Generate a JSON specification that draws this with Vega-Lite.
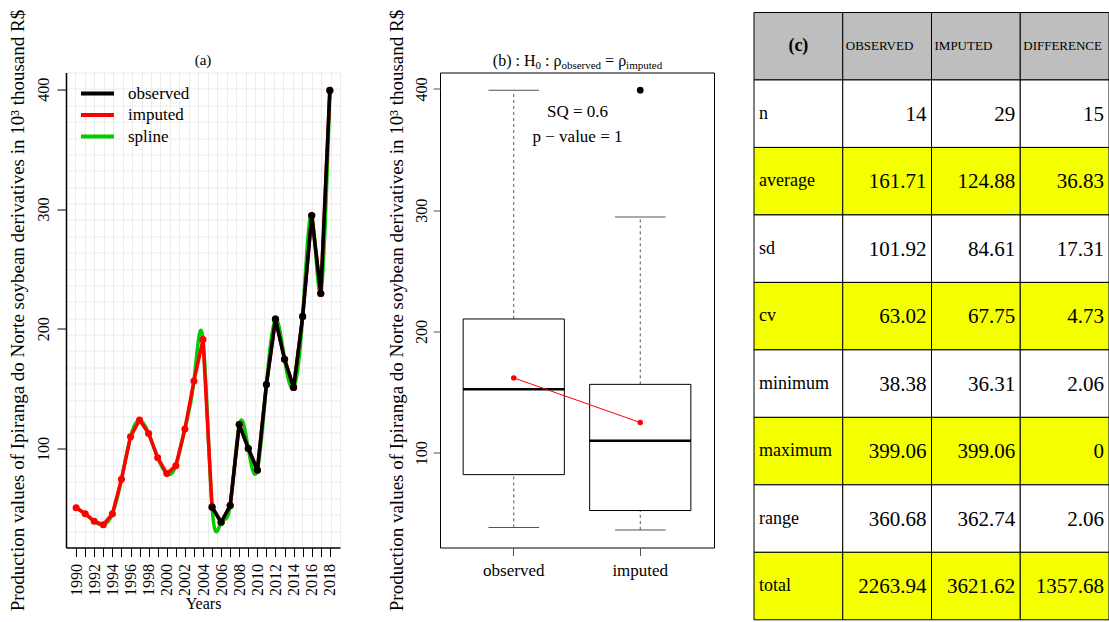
{
  "$schema": "https://vega.github.io/schema/vega-lite/v6.json",
  "background": "white",
  "autosize": {"type": "pad"},
  "padding": {"left": 7, "top": 0, "right": 0, "bottom": 0},
  "bounds": "flush",
  "center": true,
  "spacing": 40,
  "config": {
    "font": "Liberation Serif",
    "view": {"stroke": null},
    "axis": {"labelColor": "black", "titleColor": "black", "titleFontWeight": "normal", "labelFont": "Liberation Serif", "titleFont": "Liberation Serif"},
    "legend": {"labelFont": "Liberation Serif"}
  },
  "datasets": {
    "series": [
      {"year": 1990, "value": 50.5, "kind": "imputed"},
      {"year": 1991, "value": 45.5, "kind": "imputed"},
      {"year": 1992, "value": 39.2, "kind": "imputed"},
      {"year": 1993, "value": 36.31, "kind": "imputed"},
      {"year": 1994, "value": 45.4, "kind": "imputed"},
      {"year": 1995, "value": 74.2, "kind": "imputed"},
      {"year": 1996, "value": 109.8, "kind": "imputed"},
      {"year": 1997, "value": 123.8, "kind": "imputed"},
      {"year": 1998, "value": 112.5, "kind": "imputed"},
      {"year": 1999, "value": 92.3, "kind": "imputed"},
      {"year": 2000, "value": 79.0, "kind": "imputed"},
      {"year": 2001, "value": 85.6, "kind": "imputed"},
      {"year": 2002, "value": 116.2, "kind": "imputed"},
      {"year": 2003, "value": 156.37, "kind": "imputed"},
      {"year": 2004, "value": 191.0, "kind": "imputed"},
      {"year": 2005, "value": 51.0, "kind": "imputed"},
      {"year": 2006, "value": 38.38, "kind": "imputed"},
      {"year": 2007, "value": 52.3, "kind": "imputed"},
      {"year": 2008, "value": 120.0, "kind": "imputed"},
      {"year": 2009, "value": 100.0, "kind": "imputed"},
      {"year": 2010, "value": 81.9, "kind": "imputed"},
      {"year": 2011, "value": 153.5, "kind": "imputed"},
      {"year": 2012, "value": 208.0, "kind": "imputed"},
      {"year": 2013, "value": 174.5, "kind": "imputed"},
      {"year": 2014, "value": 151.0, "kind": "imputed"},
      {"year": 2015, "value": 210.3, "kind": "imputed"},
      {"year": 2016, "value": 294.5, "kind": "imputed"},
      {"year": 2017, "value": 229.5, "kind": "imputed"},
      {"year": 2018, "value": 399.06, "kind": "imputed"},
      {"year": 2005, "value": 51.0, "kind": "observed"},
      {"year": 2006, "value": 38.38, "kind": "observed"},
      {"year": 2007, "value": 52.3, "kind": "observed"},
      {"year": 2008, "value": 120.0, "kind": "observed"},
      {"year": 2009, "value": 100.0, "kind": "observed"},
      {"year": 2010, "value": 81.9, "kind": "observed"},
      {"year": 2011, "value": 153.5, "kind": "observed"},
      {"year": 2012, "value": 208.0, "kind": "observed"},
      {"year": 2013, "value": 174.5, "kind": "observed"},
      {"year": 2014, "value": 151.0, "kind": "observed"},
      {"year": 2015, "value": 210.3, "kind": "observed"},
      {"year": 2016, "value": 294.5, "kind": "observed"},
      {"year": 2017, "value": 229.5, "kind": "observed"},
      {"year": 2018, "value": 399.06, "kind": "observed"}
    ],
    "box": [
      {"group": "observed", "lo": 38.38, "q1": 81.9, "med": 152.25, "q3": 210.3, "hi": 399.06, "mean": 161.71},
      {"group": "imputed", "lo": 36.31, "q1": 52.3, "med": 109.8, "q3": 156.37, "hi": 294.5, "mean": 124.88}
    ],
    "outl": [
      {"group": "imputed", "value": 399.06}
    ],
    "tbl": [
      {"row": "head", "col": "stat", "t": "(c)"},
      {"row": "head", "col": "OBSERVED", "t": "OBSERVED"},
      {"row": "head", "col": "IMPUTED", "t": "IMPUTED"},
      {"row": "head", "col": "DIFFERENCE", "t": "DIFFERENCE"},
      {"row": "n", "col": "stat", "t": "n"},
      {"row": "n", "col": "OBSERVED", "t": "14"},
      {"row": "n", "col": "IMPUTED", "t": "29"},
      {"row": "n", "col": "DIFFERENCE", "t": "15"},
      {"row": "average", "col": "stat", "t": "average"},
      {"row": "average", "col": "OBSERVED", "t": "161.71"},
      {"row": "average", "col": "IMPUTED", "t": "124.88"},
      {"row": "average", "col": "DIFFERENCE", "t": "36.83"},
      {"row": "sd", "col": "stat", "t": "sd"},
      {"row": "sd", "col": "OBSERVED", "t": "101.92"},
      {"row": "sd", "col": "IMPUTED", "t": "84.61"},
      {"row": "sd", "col": "DIFFERENCE", "t": "17.31"},
      {"row": "cv", "col": "stat", "t": "cv"},
      {"row": "cv", "col": "OBSERVED", "t": "63.02"},
      {"row": "cv", "col": "IMPUTED", "t": "67.75"},
      {"row": "cv", "col": "DIFFERENCE", "t": "4.73"},
      {"row": "minimum", "col": "stat", "t": "minimum"},
      {"row": "minimum", "col": "OBSERVED", "t": "38.38"},
      {"row": "minimum", "col": "IMPUTED", "t": "36.31"},
      {"row": "minimum", "col": "DIFFERENCE", "t": "2.06"},
      {"row": "maximum", "col": "stat", "t": "maximum"},
      {"row": "maximum", "col": "OBSERVED", "t": "399.06"},
      {"row": "maximum", "col": "IMPUTED", "t": "399.06"},
      {"row": "maximum", "col": "DIFFERENCE", "t": "0"},
      {"row": "range", "col": "stat", "t": "range"},
      {"row": "range", "col": "OBSERVED", "t": "360.68"},
      {"row": "range", "col": "IMPUTED", "t": "362.74"},
      {"row": "range", "col": "DIFFERENCE", "t": "2.06"},
      {"row": "total", "col": "stat", "t": "total"},
      {"row": "total", "col": "OBSERVED", "t": "2263.94"},
      {"row": "total", "col": "IMPUTED", "t": "3621.62"},
      {"row": "total", "col": "DIFFERENCE", "t": "1357.68"}
    ]
  },
  "hconcat": [
    {
      "width": 274,
      "height": 475,
      "data": {"name": "series"},
      "resolve": {"axis": {"x": "independent", "y": "independent"}},
      "layer": [
        {
          "transform": [{"filter": "datum.kind === 'imputed'"}],
          "mark": {"type": "line", "interpolate": "natural", "strokeWidth": 3.5, "strokeCap": "round", "strokeJoin": "round"},
          "encoding": {
            "x": {"field": "year", "type": "quantitative", "scale": {"domain": [1988.88, 2019.12], "nice": false, "zero": false},
              "axis": {"orient": "bottom", "values": [1989.923, 1990.966, 1992.008, 1993.051, 1994.094, 1995.137, 1996.179, 1997.222, 1998.265, 1999.308, 2000.35, 2001.393, 2002.436, 2003.479, 2004.521, 2005.564, 2006.607, 2007.65, 2008.692, 2009.735, 2010.778, 2011.821, 2012.863, 2013.906, 2014.949, 2015.992, 2017.034, 2018.077, 2019.12], "grid": true, "gridColor": "#ebebeb", "gridWidth": 1, "labels": false, "ticks": false, "domain": false, "title": null}},
            "y": {"field": "value", "type": "quantitative", "scale": {"domain": [17.3, 414.0], "nice": false, "zero": false},
              "axis": {"orient": "left", "values": [30.98, 44.66, 58.34, 72.02, 85.7, 99.37, 113.05, 126.73, 140.41, 154.09, 167.77, 181.45, 195.13, 208.81, 222.49, 236.16, 249.84, 263.52, 277.2, 290.88, 304.56, 318.24, 331.92, 345.6, 359.28, 372.95, 386.63, 400.31, 414.0], "grid": true, "gridColor": "#ebebeb", "gridWidth": 1, "labels": false, "ticks": false, "domain": false, "title": null}},
            "color": {"datum": "spline", "type": "nominal", "scale": {"domain": ["observed", "imputed", "spline"], "range": ["black", "#FF0000", "#00CD00"]},
              "legend": {"orient": "none", "legendX": 21, "legendY": 83, "title": null, "symbolType": "M-2,0H2", "symbolSize": 272, "symbolStrokeWidth": 4, "labelFontSize": 17, "labelColor": "black", "labelOffset": 20, "rowPadding": 2.5, "padding": 0}}
          }
        },
        {
          "transform": [{"filter": "datum.kind === 'imputed'"}],
          "mark": {"type": "line", "strokeWidth": 3.5, "strokeCap": "round", "strokeJoin": "round"},
          "encoding": {
            "x": {"field": "year", "type": "quantitative", "scale": {"domain": [1988.88, 2019.12], "nice": false, "zero": false},
              "axis": {"orient": "bottom", "values": [1990, 1991, 1992, 1993, 1994, 1995, 1996, 1997, 1998, 1999, 2000, 2001, 2002, 2003, 2004, 2005, 2006, 2007, 2008, 2009, 2010, 2011, 2012, 2013, 2014, 2015, 2016, 2017, 2018], "format": "d", "labelExpr": "datum.value % 2 === 0 ? datum.label : ''", "labelAngle": -90, "labelAlign": "right", "labelBaseline": "middle", "labelFontSize": 16, "labelPadding": 7, "labelOverlap": false, "labelFlush": false, "tickSize": 9, "tickColor": "black", "domainColor": "black", "domainWidth": 1.5, "grid": false, "title": "Years", "titleFontSize": 16, "titlePadding": 0}},
            "y": {"field": "value", "type": "quantitative", "scale": {"domain": [17.3, 414.0], "nice": false, "zero": false},
              "axis": {"orient": "left", "values": [100, 200, 300, 400], "labelAngle": -90, "labelAlign": "center", "labelBaseline": "bottom", "labelFontSize": 16, "labelPadding": 6, "tickSize": 9, "tickColor": "black", "domainColor": "black", "domainWidth": 1.5, "grid": false, "title": "Production values of Ipiranga do Norte soybean derivatives in 10³ thousand R$", "titleFontSize": 19, "titlePadding": 8}},
            "color": {"datum": "imputed", "type": "nominal", "scale": {"domain": ["observed", "imputed", "spline"], "range": ["black", "#FF0000", "#00CD00"]},
              "legend": {"orient": "none", "legendX": 21, "legendY": 83, "title": null, "symbolType": "M-2,0H2", "symbolSize": 272, "symbolStrokeWidth": 4, "labelFontSize": 17, "labelColor": "black", "labelOffset": 20, "rowPadding": 2.5, "padding": 0}}
          }
        },
        {
          "transform": [{"filter": "datum.kind === 'imputed'"}],
          "mark": {"type": "point", "filled": true, "size": 50, "opacity": 1},
          "encoding": {
            "x": {"field": "year", "type": "quantitative", "scale": {"domain": [1988.88, 2019.12], "nice": false, "zero": false}, "axis": null},
            "y": {"field": "value", "type": "quantitative", "scale": {"domain": [17.3, 414.0], "nice": false, "zero": false}, "axis": null},
            "color": {"datum": "imputed", "type": "nominal", "scale": {"domain": ["observed", "imputed", "spline"], "range": ["black", "#FF0000", "#00CD00"]}, "legend": null}
          }
        },
        {
          "transform": [{"filter": "datum.kind === 'observed'"}],
          "mark": {"type": "line", "strokeWidth": 3.5, "strokeCap": "round", "strokeJoin": "round"},
          "encoding": {
            "x": {"field": "year", "type": "quantitative", "scale": {"domain": [1988.88, 2019.12], "nice": false, "zero": false}, "axis": null},
            "y": {"field": "value", "type": "quantitative", "scale": {"domain": [17.3, 414.0], "nice": false, "zero": false}, "axis": null},
            "color": {"datum": "observed", "type": "nominal", "scale": {"domain": ["observed", "imputed", "spline"], "range": ["black", "#FF0000", "#00CD00"]},
              "legend": {"orient": "none", "legendX": 21, "legendY": 83, "title": null, "symbolType": "M-2,0H2", "symbolSize": 272, "symbolStrokeWidth": 4, "labelFontSize": 17, "labelColor": "black", "labelOffset": 20, "rowPadding": 2.5, "padding": 0}}
          }
        },
        {
          "transform": [{"filter": "datum.kind === 'observed'"}],
          "mark": {"type": "point", "filled": true, "size": 50, "opacity": 1},
          "encoding": {
            "x": {"field": "year", "type": "quantitative", "scale": {"domain": [1988.88, 2019.12], "nice": false, "zero": false}, "axis": null},
            "y": {"field": "value", "type": "quantitative", "scale": {"domain": [17.3, 414.0], "nice": false, "zero": false}, "axis": null},
            "color": {"datum": "observed", "type": "nominal", "scale": {"domain": ["observed", "imputed", "spline"], "range": ["black", "#FF0000", "#00CD00"]}, "legend": null}
          }
        },
        {
          "data": {"values": [{}]},
          "mark": {"type": "text", "text": "(a)", "fontSize": 15, "color": "black", "align": "center", "baseline": "alphabetic"},
          "encoding": {
            "x": {"datum": 2004.0, "type": "quantitative", "scale": {"domain": [1988.88, 2019.12], "nice": false, "zero": false}, "axis": null},
            "y": {"datum": 420.1, "type": "quantitative", "scale": {"domain": [17.3, 414.0], "nice": false, "zero": false}, "axis": null}
          }
        }
      ]
    },
    {
      "width": 20,
      "height": 10,
      "data": {"values": []},
      "mark": "point"
    },
    {
      "width": 274,
      "height": 475,
      "view": {"stroke": "black", "strokeWidth": 1},
      "data": {"name": "box"},
      "resolve": {"axis": {"x": "independent", "y": "independent"}},
      "layer": [
        {
          "mark": {"type": "rule", "strokeDash": [3, 3], "color": "#555555", "strokeWidth": 1},
          "encoding": {
            "x": {"field": "group", "type": "nominal", "scale": {"type": "band", "domain": ["observed", "imputed"], "paddingInner": 0.2, "paddingOuter": 0.183},
              "axis": {"orient": "bottom", "title": null, "labelAngle": 0, "labelFontSize": 17, "labelPadding": 7, "tickSize": 8, "tickColor": "#555555", "domain": false, "grid": false}},
            "y": {"field": "q3", "type": "quantitative", "scale": {"domain": [21.8, 413.6], "nice": false, "zero": false},
              "axis": {"orient": "left", "values": [100, 200, 300, 400], "labelAngle": -90, "labelAlign": "center", "labelBaseline": "bottom", "labelFontSize": 16, "labelPadding": 4, "tickSize": 7, "tickColor": "#555555", "domain": false, "grid": false, "title": "Production values of Ipiranga do Norte soybean derivatives in 10³ thousand R$", "titleFontSize": 19, "titlePadding": 7}},
            "y2": {"field": "hi"}
          }
        },
        {
          "mark": {"type": "rule", "strokeDash": [3, 3], "color": "#555555", "strokeWidth": 1},
          "encoding": {
            "x": {"field": "group", "type": "nominal", "scale": {"type": "band", "domain": ["observed", "imputed"], "paddingInner": 0.2, "paddingOuter": 0.183}, "axis": null},
            "y": {"field": "lo", "type": "quantitative", "scale": {"domain": [21.8, 413.6], "nice": false, "zero": false}, "axis": null},
            "y2": {"field": "q1"}
          }
        },
        {
          "mark": {"type": "tick", "orient": "horizontal", "size": 50.6, "thickness": 1, "color": "#555555", "opacity": 1},
          "encoding": {
            "x": {"field": "group", "type": "nominal", "scale": {"type": "band", "domain": ["observed", "imputed"], "paddingInner": 0.2, "paddingOuter": 0.183}, "axis": null},
            "y": {"field": "hi", "type": "quantitative", "scale": {"domain": [21.8, 413.6], "nice": false, "zero": false}, "axis": null}
          }
        },
        {
          "mark": {"type": "tick", "orient": "horizontal", "size": 50.6, "thickness": 1, "color": "#555555", "opacity": 1},
          "encoding": {
            "x": {"field": "group", "type": "nominal", "scale": {"type": "band", "domain": ["observed", "imputed"], "paddingInner": 0.2, "paddingOuter": 0.183}, "axis": null},
            "y": {"field": "lo", "type": "quantitative", "scale": {"domain": [21.8, 413.6], "nice": false, "zero": false}, "axis": null}
          }
        },
        {
          "mark": {"type": "rect", "fill": "white", "stroke": "black", "strokeWidth": 1},
          "encoding": {
            "x": {"field": "group", "type": "nominal", "scale": {"type": "band", "domain": ["observed", "imputed"], "paddingInner": 0.2, "paddingOuter": 0.183}, "axis": null},
            "y": {"field": "q1", "type": "quantitative", "scale": {"domain": [21.8, 413.6], "nice": false, "zero": false}, "axis": null},
            "y2": {"field": "q3"}
          }
        },
        {
          "mark": {"type": "tick", "orient": "horizontal", "size": 101.3, "thickness": 2.5, "color": "black", "opacity": 1},
          "encoding": {
            "x": {"field": "group", "type": "nominal", "scale": {"type": "band", "domain": ["observed", "imputed"], "paddingInner": 0.2, "paddingOuter": 0.183}, "axis": null},
            "y": {"field": "med", "type": "quantitative", "scale": {"domain": [21.8, 413.6], "nice": false, "zero": false}, "axis": null}
          }
        },
        {
          "mark": {"type": "line", "color": "red", "strokeWidth": 1},
          "encoding": {
            "x": {"field": "group", "type": "nominal", "scale": {"type": "band", "domain": ["observed", "imputed"], "paddingInner": 0.2, "paddingOuter": 0.183}, "axis": null},
            "y": {"field": "mean", "type": "quantitative", "scale": {"domain": [21.8, 413.6], "nice": false, "zero": false}, "axis": null},
            "order": {"field": "mean", "sort": "descending"}
          }
        },
        {
          "mark": {"type": "point", "filled": true, "color": "red", "size": 30, "opacity": 1},
          "encoding": {
            "x": {"field": "group", "type": "nominal", "scale": {"type": "band", "domain": ["observed", "imputed"], "paddingInner": 0.2, "paddingOuter": 0.183}, "axis": null},
            "y": {"field": "mean", "type": "quantitative", "scale": {"domain": [21.8, 413.6], "nice": false, "zero": false}, "axis": null}
          }
        },
        {
          "data": {"name": "outl"},
          "mark": {"type": "point", "filled": true, "color": "black", "size": 45, "opacity": 1},
          "encoding": {
            "x": {"field": "group", "type": "nominal", "scale": {"type": "band", "domain": ["observed", "imputed"], "paddingInner": 0.2, "paddingOuter": 0.183}, "axis": null},
            "y": {"field": "value", "type": "quantitative", "scale": {"domain": [21.8, 413.6], "nice": false, "zero": false}, "axis": null}
          }
        },
        {
          "data": {"values": [{}]},
          "mark": {"type": "text", "text": "SQ = 0.6", "fontSize": 17, "color": "black", "align": "center", "baseline": "alphabetic"},
          "encoding": {
            "x": {"datum": "observed", "type": "nominal", "bandPosition": 1.13, "scale": {"type": "band", "domain": ["observed", "imputed"], "paddingInner": 0.2, "paddingOuter": 0.183}, "axis": null},
            "y": {"datum": 376.7, "type": "quantitative", "scale": {"domain": [21.8, 413.6], "nice": false, "zero": false}, "axis": null}
          }
        },
        {
          "data": {"values": [{}]},
          "mark": {"type": "text", "text": "p − value = 1", "fontSize": 17, "color": "black", "align": "center", "baseline": "alphabetic"},
          "encoding": {
            "x": {"datum": "observed", "type": "nominal", "bandPosition": 1.13, "scale": {"type": "band", "domain": ["observed", "imputed"], "paddingInner": 0.2, "paddingOuter": 0.183}, "axis": null},
            "y": {"datum": 356.5, "type": "quantitative", "scale": {"domain": [21.8, 413.6], "nice": false, "zero": false}, "axis": null}
          }
        },
        {
          "data": {"values": [{}]},
          "mark": {"type": "text", "text": "(b) : H", "fontSize": 16, "color": "black", "align": "left", "baseline": "alphabetic", "dx": -84.7},
          "encoding": {
            "x": {"datum": "observed", "type": "nominal", "bandPosition": 1.13, "scale": {"type": "band", "domain": ["observed", "imputed"], "paddingInner": 0.2, "paddingOuter": 0.183}, "axis": null},
            "y": {"datum": 419.3, "type": "quantitative", "scale": {"domain": [21.8, 413.6], "nice": false, "zero": false}, "axis": null}
          }
        },
        {
          "data": {"values": [{}]},
          "mark": {"type": "text", "text": "0", "fontSize": 11, "color": "black", "align": "left", "baseline": "alphabetic", "dx": -42.0, "dy": 3},
          "encoding": {
            "x": {"datum": "observed", "type": "nominal", "bandPosition": 1.13, "scale": {"type": "band", "domain": ["observed", "imputed"], "paddingInner": 0.2, "paddingOuter": 0.183}, "axis": null},
            "y": {"datum": 419.3, "type": "quantitative", "scale": {"domain": [21.8, 413.6], "nice": false, "zero": false}, "axis": null}
          }
        },
        {
          "data": {"values": [{}]},
          "mark": {"type": "text", "text": ": ρ", "fontSize": 16, "color": "black", "align": "left", "baseline": "alphabetic", "dx": -32.5},
          "encoding": {
            "x": {"datum": "observed", "type": "nominal", "bandPosition": 1.13, "scale": {"type": "band", "domain": ["observed", "imputed"], "paddingInner": 0.2, "paddingOuter": 0.183}, "axis": null},
            "y": {"datum": 419.3, "type": "quantitative", "scale": {"domain": [21.8, 413.6], "nice": false, "zero": false}, "axis": null}
          }
        },
        {
          "data": {"values": [{}]},
          "mark": {"type": "text", "text": "observed", "fontSize": 11, "color": "black", "align": "left", "baseline": "alphabetic", "dx": -16.1, "dy": 3},
          "encoding": {
            "x": {"datum": "observed", "type": "nominal", "bandPosition": 1.13, "scale": {"type": "band", "domain": ["observed", "imputed"], "paddingInner": 0.2, "paddingOuter": 0.183}, "axis": null},
            "y": {"datum": 419.3, "type": "quantitative", "scale": {"domain": [21.8, 413.6], "nice": false, "zero": false}, "axis": null}
          }
        },
        {
          "data": {"values": [{}]},
          "mark": {"type": "text", "text": "= ρ", "fontSize": 16, "color": "black", "align": "left", "baseline": "alphabetic", "dx": 27.6},
          "encoding": {
            "x": {"datum": "observed", "type": "nominal", "bandPosition": 1.13, "scale": {"type": "band", "domain": ["observed", "imputed"], "paddingInner": 0.2, "paddingOuter": 0.183}, "axis": null},
            "y": {"datum": 419.3, "type": "quantitative", "scale": {"domain": [21.8, 413.6], "nice": false, "zero": false}, "axis": null}
          }
        },
        {
          "data": {"values": [{}]},
          "mark": {"type": "text", "text": "imputed", "fontSize": 11, "color": "black", "align": "left", "baseline": "alphabetic", "dx": 48.6, "dy": 3},
          "encoding": {
            "x": {"datum": "observed", "type": "nominal", "bandPosition": 1.13, "scale": {"type": "band", "domain": ["observed", "imputed"], "paddingInner": 0.2, "paddingOuter": 0.183}, "axis": null},
            "y": {"datum": 419.3, "type": "quantitative", "scale": {"domain": [21.8, 413.6], "nice": false, "zero": false}, "axis": null}
          }
        }
      ]
    },
    {
      "width": 355,
      "height": 619.6,
      "data": {"name": "tbl"},
      "layer": [
        {
          "mark": {"type": "rect", "stroke": "black", "strokeWidth": 1, "opacity": 1},
          "encoding": {
            "x": {"field": "col", "type": "nominal", "scale": {"type": "band", "domain": ["stat", "OBSERVED", "IMPUTED", "DIFFERENCE"], "paddingInner": 0, "paddingOuter": 0}, "axis": null},
            "y": {"field": "row", "type": "nominal", "scale": {"type": "band", "domain": ["head", "n", "average", "sd", "cv", "minimum", "maximum", "range", "total"], "paddingInner": 0, "paddingOuter": 0.0911, "align": 1}, "axis": null},
            "fill": {"field": "row", "type": "nominal", "scale": {"domain": ["head", "n", "average", "sd", "cv", "minimum", "maximum", "range", "total"], "range": ["#BEBEBE", "#FFFFFF", "#F4FF00", "#FFFFFF", "#F4FF00", "#FFFFFF", "#F4FF00", "#FFFFFF", "#F4FF00"]}, "legend": null}
          }
        },
        {
          "transform": [{"filter": "datum.col === 'stat' && datum.row !== 'head'"}],
          "mark": {"type": "text", "align": "left", "baseline": "middle", "fontSize": 18, "color": "black", "dx": 5},
          "encoding": {
            "x": {"field": "col", "type": "nominal", "bandPosition": 0, "scale": {"type": "band", "domain": ["stat", "OBSERVED", "IMPUTED", "DIFFERENCE"], "paddingInner": 0, "paddingOuter": 0}, "axis": null},
            "y": {"field": "row", "type": "nominal", "scale": {"type": "band", "domain": ["head", "n", "average", "sd", "cv", "minimum", "maximum", "range", "total"], "paddingInner": 0, "paddingOuter": 0.0911, "align": 1}, "axis": null},
            "text": {"field": "t"}
          }
        },
        {
          "transform": [{"filter": "datum.col !== 'stat' && datum.row !== 'head'"}],
          "mark": {"type": "text", "align": "right", "baseline": "middle", "fontSize": 21, "color": "black", "dx": -5, "dy": 1},
          "encoding": {
            "x": {"field": "col", "type": "nominal", "bandPosition": 1, "scale": {"type": "band", "domain": ["stat", "OBSERVED", "IMPUTED", "DIFFERENCE"], "paddingInner": 0, "paddingOuter": 0}, "axis": null},
            "y": {"field": "row", "type": "nominal", "scale": {"type": "band", "domain": ["head", "n", "average", "sd", "cv", "minimum", "maximum", "range", "total"], "paddingInner": 0, "paddingOuter": 0.0911, "align": 1}, "axis": null},
            "text": {"field": "t"}
          }
        },
        {
          "transform": [{"filter": "datum.col === 'stat' && datum.row === 'head'"}],
          "mark": {"type": "text", "align": "center", "baseline": "middle", "fontSize": 18, "fontWeight": "bold", "color": "black"},
          "encoding": {
            "x": {"field": "col", "type": "nominal", "scale": {"type": "band", "domain": ["stat", "OBSERVED", "IMPUTED", "DIFFERENCE"], "paddingInner": 0, "paddingOuter": 0}, "axis": null},
            "y": {"field": "row", "type": "nominal", "scale": {"type": "band", "domain": ["head", "n", "average", "sd", "cv", "minimum", "maximum", "range", "total"], "paddingInner": 0, "paddingOuter": 0.0911, "align": 1}, "axis": null},
            "text": {"field": "t"}
          }
        },
        {
          "transform": [{"filter": "datum.col !== 'stat' && datum.row === 'head'"}],
          "mark": {"type": "text", "align": "left", "baseline": "middle", "fontSize": 13, "color": "black", "dx": 3},
          "encoding": {
            "x": {"field": "col", "type": "nominal", "bandPosition": 0, "scale": {"type": "band", "domain": ["stat", "OBSERVED", "IMPUTED", "DIFFERENCE"], "paddingInner": 0, "paddingOuter": 0}, "axis": null},
            "y": {"field": "row", "type": "nominal", "scale": {"type": "band", "domain": ["head", "n", "average", "sd", "cv", "minimum", "maximum", "range", "total"], "paddingInner": 0, "paddingOuter": 0.0911, "align": 1}, "axis": null},
            "text": {"field": "t"}
          }
        }
      ]
    }
  ]
}
